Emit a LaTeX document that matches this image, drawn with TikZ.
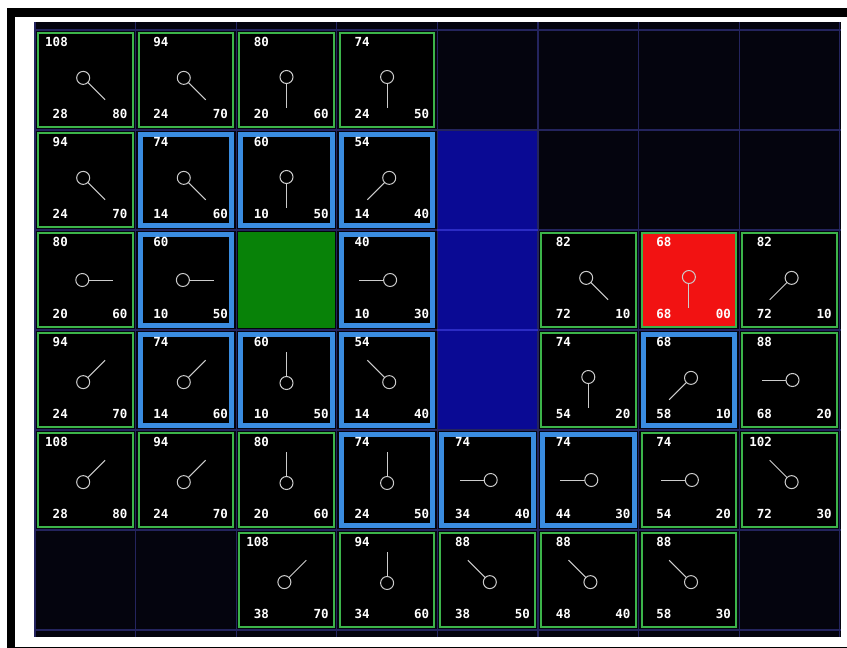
\documentclass[tikz,border=0pt]{standalone}
\usepackage{fontspec}
\newfontfamily\numfont{DejaVu Sans Mono}
\definecolor{gridbg}{HTML}{04040E}
\definecolor{gridln}{HTML}{24245E}
\definecolor{wallc}{HTML}{0A0A94}
\definecolor{wallln}{HTML}{2C2CC4}
\definecolor{openc}{HTML}{3CB44A}
\definecolor{closedc}{HTML}{3A8CE0}
\definecolor{startc}{HTML}{088208}
\definecolor{targetc}{HTML}{F21212}
\definecolor{ptrc}{HTML}{CCCCCC}
\tikzset{
  openbox/.style={draw=openc, line width=2pt, fill=black, minimum width=94.6pt, minimum height=94pt, inner sep=0pt},
  closedbox/.style={draw=closedc, line width=5pt, fill=black, minimum width=91.6pt, minimum height=91pt, inner sep=0pt},
  targetbox/.style={draw=openc, line width=2pt, fill=targetc, minimum width=94.6pt, minimum height=94pt, inner sep=0pt},
  numlbl/.style={text=white, inner sep=0pt, font=\numfont\bfseries\fontsize{12.5}{12.5}\selectfont},
  ptrline/.style={draw=ptrc, line width=1pt},
  gline/.style={draw=gridln, line width=1.2pt}
}
\begin{document}
\begin{tikzpicture}[x=1pt,y=-1pt]
\useasboundingbox (0,0) rectangle (847,648);
\fill[white] (0,0) rectangle (847,648);
\fill[black] (7,8) rectangle (847,648);
\fill[white] (15,17) rectangle (847,647);
\fill[gridbg] (34,22) rectangle (841,637);
\fill[wallc] (437.4,130) rectangle (538,430);
\foreach \i in {0,...,8} {\draw[gline] ({35+100.6*\i},22) -- ({35+100.6*\i},637);}
\foreach \j in {0,...,6} {\draw[gline] (34,{30+100*\j}) -- (841,{30+100*\j});}
\draw[wallln, line width=1.2pt] (437.4,230) -- (538,230) (437.4,330) -- (538,330);
\fill[startc] (238.2,232) rectangle (334.8,328);
\foreach \c/\r/\t/\f/\g/\h/\dx/\dy in {
 0/0/0/108/28/80/1/1, 1/0/0/94/24/70/1/1, 2/0/0/80/20/60/0/1, 3/0/0/74/24/50/0/1,
 0/1/0/94/24/70/1/1, 1/1/1/74/14/60/1/1, 2/1/1/60/10/50/0/1, 3/1/1/54/14/40/-1/1,
 0/2/0/80/20/60/1/0, 1/2/1/60/10/50/1/0, 3/2/1/40/10/30/-1/0, 5/2/0/82/72/10/1/1,
 6/2/2/68/68/00/0/1, 7/2/0/82/72/10/-1/1,
 0/3/0/94/24/70/1/-1, 1/3/1/74/14/60/1/-1, 2/3/1/60/10/50/0/-1, 3/3/1/54/14/40/-1/-1,
 5/3/0/74/54/20/0/1, 6/3/1/68/58/10/-1/1, 7/3/0/88/68/20/-1/0,
 0/4/0/108/28/80/1/-1, 1/4/0/94/24/70/1/-1, 2/4/0/80/20/60/0/-1, 3/4/1/74/24/50/0/-1,
 4/4/1/74/34/40/-1/0, 5/4/1/74/44/30/-1/0, 6/4/0/74/54/20/-1/0, 7/4/0/102/72/30/-1/-1,
 2/5/0/108/38/70/1/-1, 3/5/0/94/34/60/0/-1, 4/5/0/88/38/50/-1/-1, 5/5/0/88/48/40/-1/-1,
 6/5/0/88/58/30/-1/-1} {
  \pgfmathsetmacro\lft{35+100.6*\c}
  \pgfmathsetmacro\tp{30+100*\r}
  \pgfmathsetmacro\cx{\lft+50.3}
  \pgfmathsetmacro\cy{\tp+50}
  \ifcase\t
    \node[openbox] (cell-\c-\r) at (\cx,\cy) {};
  \or
    \node[closedbox] (cell-\c-\r) at (\cx,\cy) {};
  \or
    \node[targetbox] (cell-\c-\r) at (\cx,\cy) {};
  \fi
  \pgfmathsetmacro\nn{sqrt((\dx)*(\dx)+(\dy)*(\dy))}
  \pgfmathsetmacro\ux{(\dx)/\nn}
  \pgfmathsetmacro\uy{(\dy)/\nn}
  \pgfmathsetmacro\px{\cx-3*(\ux)}
  \pgfmathsetmacro\py{\cy-3*(\uy)}
  \pgfmathsetmacro\ax{\px+6.5*(\ux)}
  \pgfmathsetmacro\ay{\py+6.5*(\uy)}
  \pgfmathsetmacro\bx{\px+31*(\ux)}
  \pgfmathsetmacro\by{\py+31*(\uy)}
  \coordinate (pc-\c-\r) at (\px,\py);
  \coordinate (pa-\c-\r) at (\ax,\ay);
  \coordinate (pb-\c-\r) at (\bx,\by);
  \draw[ptrline] (pc-\c-\r) circle (6.5);
  \draw[ptrline] (pa-\c-\r) -- (pb-\c-\r);
  \node[numlbl, anchor=base east] (f-\c-\r) at ({\lft+33},{\tp+16.8}) {\f};
  \node[numlbl, anchor=base east] (g-\c-\r) at ({\lft+33},{\tp+88.6}) {\g};
  \node[numlbl, anchor=base east] (h-\c-\r) at ({\lft+92.6},{\tp+88.6}) {\h};
}
\end{tikzpicture}
\end{document}
